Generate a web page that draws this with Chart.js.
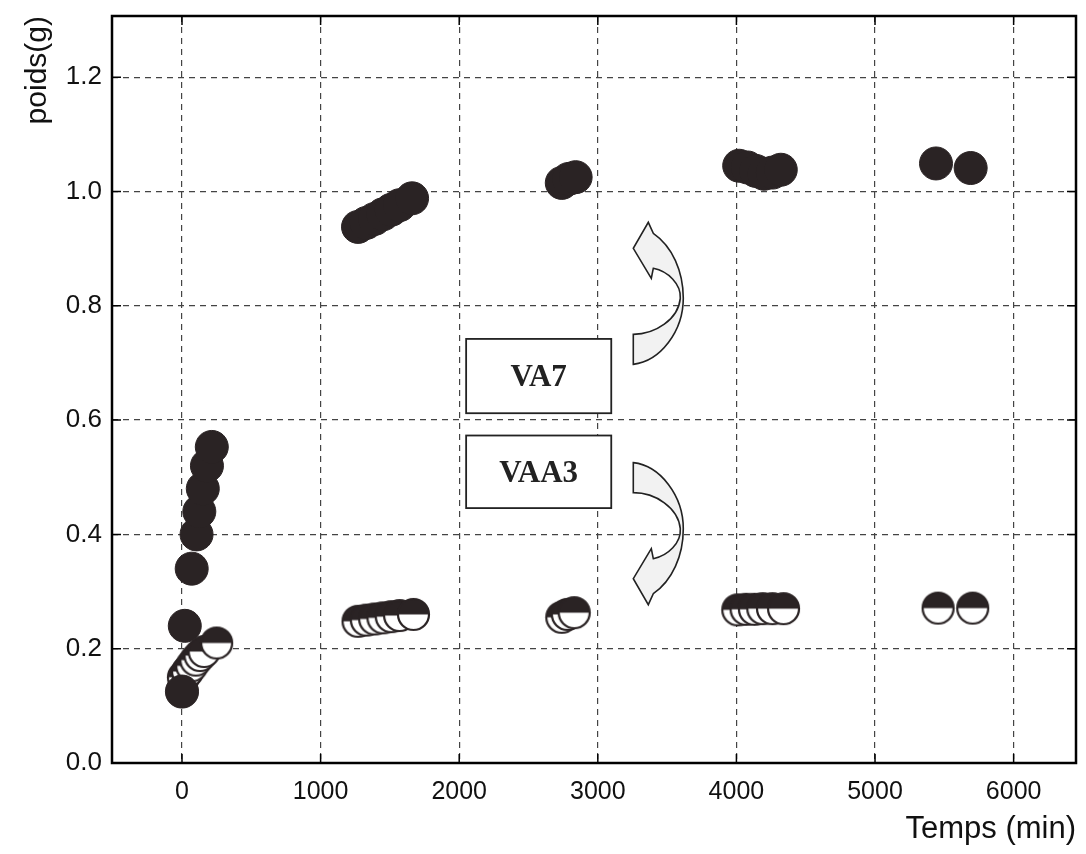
<!DOCTYPE html>
<html>
<head>
<meta charset="utf-8">
<script src="https://cdn.jsdelivr.net/npm/chart.js@4.4.0/dist/chart.umd.min.js"></script>
<style>
  html, body { margin: 0; padding: 0; background: #fff; }
  #wrap { width: 1086px; height: 854px; }
</style>
</head>
<body>
<div id="wrap"><canvas id="poidsChart" width="1086" height="854"></canvas></div>
<script>
// VA7 (filled markers)
const tempsVA7 = [0, 20, 70, 105, 125, 150, 180, 215,
                  1270, 1330, 1390, 1450, 1510, 1570, 1660,
                  2740, 2790, 2840,
                  4020, 4080, 4140, 4200, 4260, 4320,
                  5440, 5690];
const poidsVA7 = [0.125, 0.24, 0.34, 0.40, 0.44, 0.48, 0.52, 0.553,
                  0.938, 0.945, 0.952, 0.96, 0.968, 0.976, 0.988,
                  1.015, 1.022, 1.025,
                  1.045, 1.042, 1.036, 1.031, 1.033, 1.038,
                  1.049, 1.041];

// VAA3 (half-filled markers)
const tempsVAA3 = [0, 10, 40, 70, 100, 130, 160, 250,
                   1270, 1330, 1390, 1450, 1510, 1570, 1670,
                   2740, 2780, 2830,
                   4010, 4070, 4130, 4190, 4260, 4340,
                   5455, 5705];
const poidsVAA3 = [0.125, 0.15, 0.16, 0.17, 0.18, 0.188, 0.195, 0.21,
                   0.248, 0.25, 0.252, 0.254, 0.256, 0.258, 0.26,
                   0.255, 0.26, 0.263,
                   0.268, 0.269, 0.269, 0.27, 0.27, 0.27,
                   0.271, 0.271];

const xTicks = [0, 1000, 2000, 3000, 4000, 5000, 6000];
const yTicks = [0, 0.2, 0.4, 0.6, 0.8, 1.0, 1.2];

const INK = '#2a2324';
const FAMILY = "'Liberation Sans', Arial, sans-serif";

// half black / half white marker
function halfMarker(r) {
  const c = document.createElement('canvas');
  const s = Math.ceil(r * 2 + 4);
  c.width = s; c.height = s;
  const g = c.getContext('2d');
  const m = s / 2;
  g.beginPath(); g.arc(m, m, r, 0, Math.PI * 2); g.fillStyle = '#fff'; g.fill();
  g.beginPath(); g.arc(m, m, r, Math.PI, 0); g.closePath(); g.fillStyle = INK; g.fill();
  g.beginPath(); g.arc(m, m, r, 0, Math.PI * 2);
  g.lineWidth = 2.2; g.strokeStyle = INK; g.stroke();
  return c;
}

const toPoints = (xs, ys) => xs.map((x, i) => ({ x: x, y: ys[i] }));

// labels and curved arrows, anchored in data units
const labelBoxes = [
  { text: 'VA7', x0: 2050, x1: 3097, y0: 0.612, y1: 0.742 },
  { text: 'VAA3', x0: 2050, x1: 3097, y0: 0.446, y1: 0.573 }
];
const arrowAnchors = [
  { x: 3256, y: 0.813, flip: 1 },
  { x: 3256, y: 0.410, flip: -1 }
];

const framePlugin = {
  id: 'frame',
  afterDatasetsDraw(chart) {
    const { ctx, chartArea: a, scales } = chart;
    ctx.save();
    // small inward tick marks
    ctx.strokeStyle = '#000';
    ctx.lineWidth = 1.5;
    ctx.beginPath();
    xTicks.forEach(v => {
      const px = scales.x.getPixelForValue(v);
      ctx.moveTo(px, a.bottom); ctx.lineTo(px, a.bottom - 9);
      ctx.moveTo(px, a.top); ctx.lineTo(px, a.top + 9);
    });
    yTicks.forEach(v => {
      const py = scales.y.getPixelForValue(v);
      ctx.moveTo(a.left, py); ctx.lineTo(a.left + 9, py);
      ctx.moveTo(a.right, py); ctx.lineTo(a.right - 9, py);
    });
    ctx.stroke();
    ctx.lineWidth = 2.5;
    ctx.strokeRect(a.left, a.top, a.right - a.left, a.bottom - a.top);

    // annotation boxes
    labelBoxes.forEach(b => {
      const l = scales.x.getPixelForValue(b.x0), r = scales.x.getPixelForValue(b.x1);
      const t = scales.y.getPixelForValue(b.y1), bt = scales.y.getPixelForValue(b.y0);
      ctx.fillStyle = '#fff';
      ctx.fillRect(l, t, r - l, bt - t);
      ctx.lineWidth = 1.8;
      ctx.strokeStyle = '#222';
      ctx.strokeRect(l, t, r - l, bt - t);
      ctx.fillStyle = '#222';
      ctx.font = "bold 31px 'Liberation Serif', 'Times New Roman', serif";
      ctx.textAlign = 'center';
      ctx.textBaseline = 'middle';
      ctx.fillText(b.text, (l + r) / 2, (t + bt) / 2 + 2);
    });

    // curved arrows
    arrowAnchors.forEach(an => {
      const cx = scales.x.getPixelForValue(an.x);
      const cy = scales.y.getPixelForValue(an.y);
      const P = (dx, dy) => [cx + dx, cy + dy * an.flip];
      ctx.beginPath();
      let p = P(20, -65); ctx.moveTo(p[0], p[1]);
      let c1 = P(39, -52), c2 = P(50, -27), e = P(50, 0);
      ctx.bezierCurveTo(c1[0], c1[1], c2[0], c2[1], e[0], e[1]);
      c1 = P(50, 33); c2 = P(27, 63); e = P(0, 66);
      ctx.bezierCurveTo(c1[0], c1[1], c2[0], c2[1], e[0], e[1]);
      p = P(0, 36); ctx.lineTo(p[0], p[1]);
      c1 = P(22, 36); c2 = P(45, 21); e = P(47, 0);
      ctx.bezierCurveTo(c1[0], c1[1], c2[0], c2[1], e[0], e[1]);
      c1 = P(48, -14); c2 = P(35, -27); e = P(20, -30);
      ctx.bezierCurveTo(c1[0], c1[1], c2[0], c2[1], e[0], e[1]);
      p = P(18, -20); ctx.lineTo(p[0], p[1]);
      p = P(0, -50); ctx.lineTo(p[0], p[1]);
      p = P(15, -76); ctx.lineTo(p[0], p[1]);
      ctx.closePath();
      ctx.fillStyle = '#f2f2f2';
      ctx.fill();
      ctx.lineWidth = 1.6;
      ctx.strokeStyle = '#222';
      ctx.stroke();
    });
    ctx.restore();
  }
};

new Chart(document.getElementById('poidsChart'), {
  type: 'scatter',
  data: {
    datasets: [
      {
        label: 'VA7',
        data: toPoints(tempsVA7, poidsVA7),
        pointRadius: 16.5,
        pointHoverRadius: 16.5,
        backgroundColor: INK,
        borderColor: INK,
        borderWidth: 1
      },
      {
        label: 'VAA3',
        data: toPoints(tempsVAA3, poidsVAA3),
        pointStyle: halfMarker(15.5),
        pointRadius: 16.5,
        backgroundColor: '#fff',
        borderColor: INK
      }
    ]
  },
  options: {
    responsive: false,
    animation: false,
    layout: { autoPadding: false, padding: { top: 16, right: 10, left: 0, bottom: 0 } },
    plugins: {
      legend: { display: false },
      tooltip: { enabled: false }
    },
    scales: {
      x: {
        type: 'linear',
        min: -505,
        max: 6450,
        afterBuildTicks: s => { s.ticks = xTicks.map(v => ({ value: v })); },
        afterFit: s => { s.height = 91; s.paddingLeft = 0; s.paddingRight = 0; },
        grid: { color: '#444', lineWidth: 1.2, drawTicks: false },
        border: { display: false, dash: [6, 5] },
        ticks: { color: '#111', font: { family: FAMILY, size: 25 }, padding: 14, maxRotation: 0,
                 callback: v => String(v) },
        title: { display: true, text: 'Temps (min)', align: 'end', color: '#111',
                 font: { family: FAMILY, size: 31 }, padding: { bottom: 6 } }
      },
      y: {
        type: 'linear',
        min: 0,
        max: 1.307,
        afterBuildTicks: s => { s.ticks = yTicks.map(v => ({ value: v })); },
        afterFit: s => { s.width = 112; s.paddingTop = 0; s.paddingBottom = 0; },
        grid: { color: '#444', lineWidth: 1.2, drawTicks: false },
        border: { display: false, dash: [6, 5] },
        ticks: { color: '#111', font: { family: FAMILY, size: 26 }, padding: 10,
                 callback: v => v.toFixed(1) },
        title: { display: true, text: 'poids(g)', align: 'end', color: '#111',
                 font: { family: FAMILY, size: 30 }, padding: { top: 20 } }
      }
    }
  },
  plugins: [framePlugin]
});
</script>
</body>
</html>
